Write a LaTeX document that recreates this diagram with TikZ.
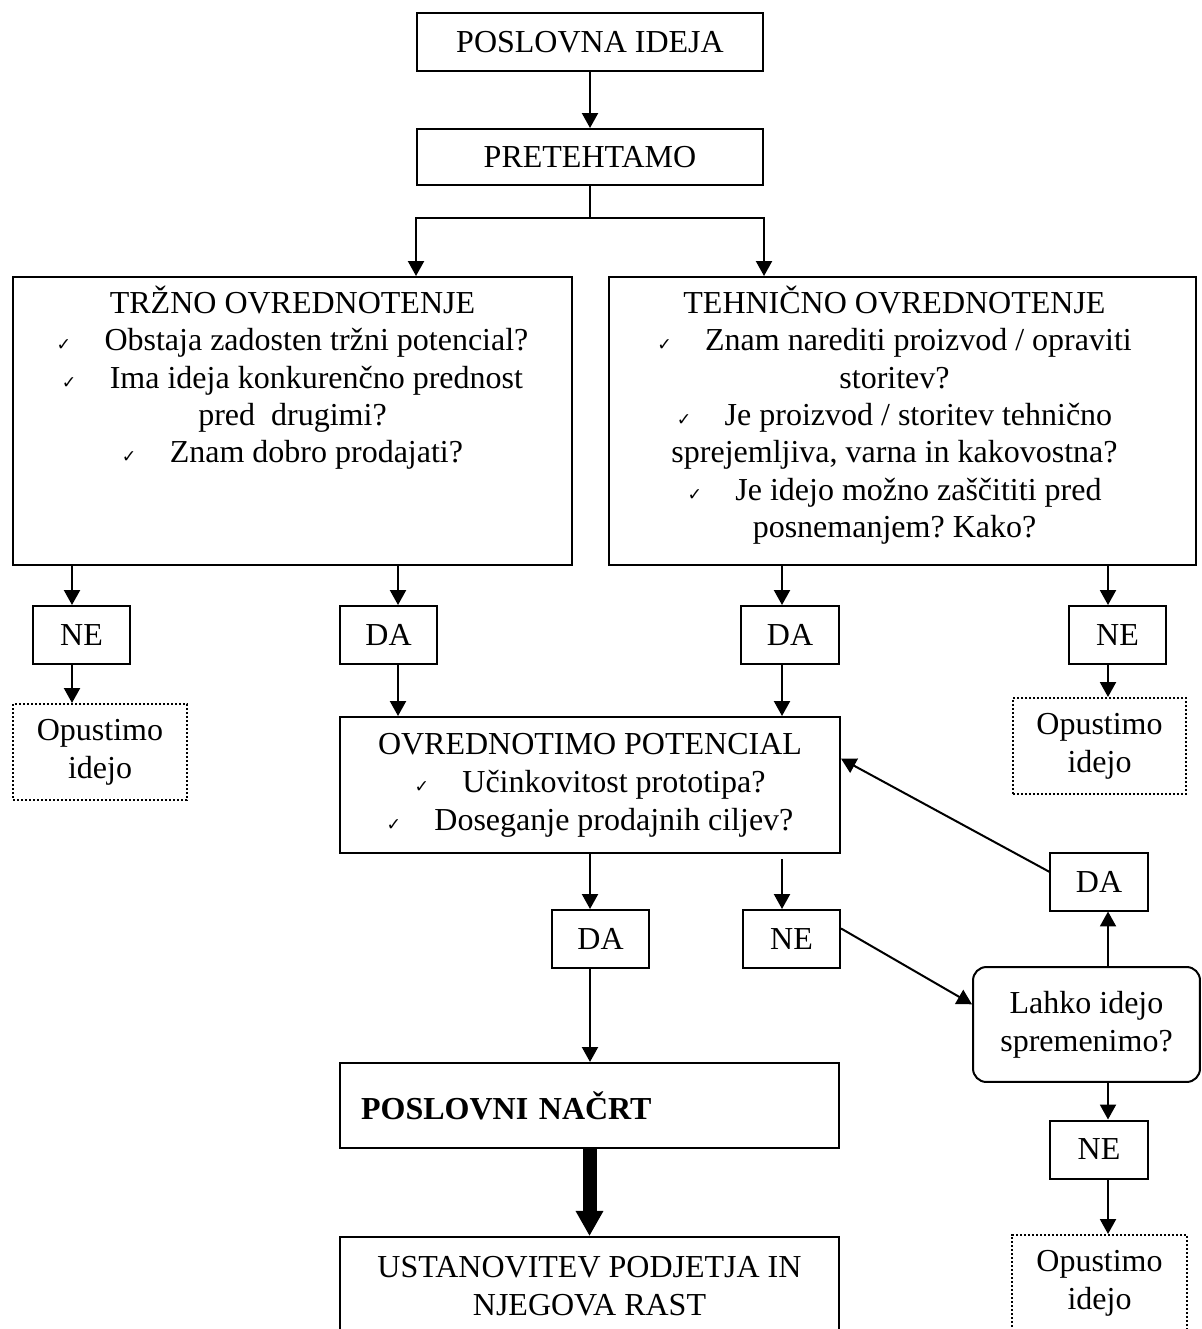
\documentclass[tikz,border=0pt]{standalone}
\usepackage{fontspec}
\setmainfont{Liberation Serif}
\newfontfamily\znaki{DejaVu Sans}
\usetikzlibrary{arrows.meta}
\newcommand{\kljukica}{{\znaki\fontsize{6.5}{6.5}\selectfont ✓}\hspace{12.5pt}}
\frenchspacing

\begin{document}
\begin{tikzpicture}[x=0.375pt,y=-0.375pt,
  box/.style={draw,line width=0.75pt,inner sep=0pt,align=center,font=\fontsize{12}{14.2}\selectfont},
  dotbox/.style={box,dash pattern=on 0.75pt off 0.75pt,minimum width=65.25pt,minimum height=36pt},
  yesno/.style={box,minimum width=36.4pt,minimum height=21.75pt},
  roundbox/.style={box,rounded corners=5pt},
  txt/.style={inner sep=0pt,align=center,font=\fontsize{12}{14}\selectfont},
  arr/.style={line width=0.75pt,-{Triangle[length=5.6pt,width=6pt]}},
  bigarr/.style={line width=5.25pt,-{Triangle[length=9.4pt,width=9.75pt]}}]
\useasboundingbox (0,0) rectangle (1201,1329);

% zgornji del
\node[box,minimum width=129.75pt,minimum height=21.75pt] (idea) at (590,42) {POSLOVNA IDEJA};
\node[box,minimum width=129.75pt,minimum height=21pt] (pret) at (590,157) {PRETEHTAMO};
\coordinate (split) at (590,218);

\node[box,minimum width=209.6pt,minimum height=108pt] (trzno) at (292.5,421) {};
\node[txt,anchor=north,yshift=-3.5pt] (trznotxt) at (trzno.north) {TRŽNO OVREDNOTENJE\\
  \kljukica Obstaja zadosten tržni potencial?\\
  \kljukica Ima ideja konkurenčno prednost\\
  pred\ \ drugimi?\\
  \kljukica Znam dobro prodajati?};
\node[box,minimum width=220.1pt,minimum height=108pt] (tehn) at (902.5,421) {};
\node[txt,anchor=north,yshift=-3.5pt,xshift=-3pt] (tehntxt) at (tehn.north) {TEHNIČNO OVREDNOTENJE\\
  \kljukica Znam narediti proizvod / opraviti\\
  storitev?\\
  \kljukica Je proizvod / storitev tehnično\\
  sprejemljiva, varna in kakovostna?\\
  \kljukica Je idejo možno zaščititi pred\\
  posnemanjem? Kako?};

% odgovori
\node[yesno] (ne1) at (81.5,635) {NE};
\node[dotbox] (opl) at (100,752) {Opustimo\\idejo};
\node[yesno] (da1) at (388.5,635) {DA};
\node[yesno] (da2) at (790,635) {DA};
\node[yesno] (ne2) at (1117.5,635) {NE};
\node[dotbox,minimum width=64.9pt] (opr) at (1099.5,746) {Opustimo\\idejo};

\node[box,minimum width=187.5pt,minimum height=51pt] (pot) at (590,785) {OVREDNOTIMO POTENCIAL\\
  \kljukica Učinkovitost prototipa?\\
  \kljukica Doseganje prodajnih ciljev?};

\node[yesno] (da3) at (600.5,939) {DA};
\node[yesno] (ne3) at (791.5,939) {NE};
\node[yesno] (da4) at (1099,881.5) {DA};
\node[roundbox,minimum width=85.1pt,minimum height=43.1pt] (lahko) at (1086.5,1024.5) {Lahko idejo\\spremenimo?};
\node[yesno] (ne4) at (1099,1149.5) {NE};
\node[dotbox,minimum width=65.6pt] (opd) at (1099.5,1283) {Opustimo\\idejo};

\node[box,minimum width=187.1pt,minimum height=31.9pt,text width=171.3pt,align=left,
  font=\bfseries\fontsize{12}{14}\selectfont] (nacrt) at (589.5,1105.5) {POSLOVNI NAČRT};
\node[box,minimum width=187.1pt,minimum height=36.75pt] (ust) at (589.5,1286) {USTANOVITEV PODJETJA IN\\NJEGOVA RAST};

% povezave
\coordinate (xa) at (72,0);
\coordinate (xb) at (398,0);
\coordinate (xc) at (782,0);
\coordinate (xd) at (1108,0);
\draw[arr] (idea) -- (pret);
\draw[line width=0.75pt] (pret.south) -- (split);
\draw[arr] (split) -| (trzno.north -| idea.west);
\draw[arr] (split) -| (tehn.north -| idea.east);
\draw[arr] (trzno.south -| xa) -- (ne1.north -| xa);
\draw[arr] (ne1.south -| xa) -- (opl.north -| xa);
\draw[arr] (trzno.south -| xb) -- (da1.north -| xb);
\draw[arr] (da1.south -| xb) -- (pot.north -| xb);
\draw[arr] (tehn.south -| xc) -- (da2.north -| xc);
\draw[arr] (da2.south -| xc) -- (pot.north -| xc);
\draw[arr] (tehn.south -| xd) -- (ne2.north -| xd);
\draw[arr] (ne2.south -| xd) -- (opr.north -| xd);
\draw[arr] (pot.south) -- (da3.north -| pot.south);
\draw[arr] (da3.south -| pot.south) -- (nacrt.north -| pot.south);
\draw[arr,shorten <=1.9pt] (pot.south -| xc) -- (ne3.north -| xc);
\draw[arr] (ne3.12) -- (lahko.170);
\draw[arr] (lahko.north -| xd) -- (da4.south -| xd);
\draw[arr] (da4.169) -- (pot.6);
\draw[arr] (lahko.south -| xd) -- (ne4.north -| xd);
\draw[arr] (ne4.south -| xd) -- (opd.north -| xd);
\draw[bigarr] (nacrt.south) -- (ust.north);
\end{tikzpicture}
\end{document}
